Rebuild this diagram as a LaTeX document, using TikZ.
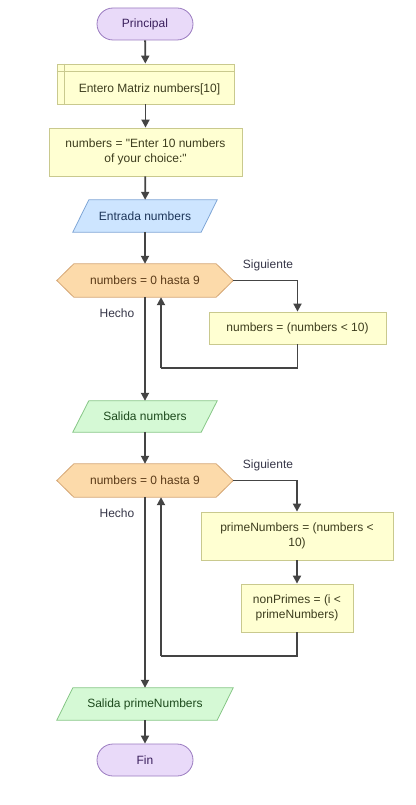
\documentclass[tikz,border=0pt]{standalone}
\usepackage{fontspec}
\newfontfamily\arialf{Liberation Sans}
\usetikzlibrary{arrows.meta,backgrounds,calc}
\definecolor{termfill}{HTML}{E9DAF9}
\definecolor{termdraw}{HTML}{9A7BC0}
\definecolor{termtext}{HTML}{3A1F5C}
\definecolor{procfill}{HTML}{FFFFD2}
\definecolor{procdraw}{HTML}{C9C98E}
\definecolor{proctext}{HTML}{3D3D1E}
\definecolor{infill}{HTML}{CDE5FF}
\definecolor{indraw}{HTML}{7FA6D6}
\definecolor{intext}{HTML}{1C3559}
\definecolor{loopfill}{HTML}{FCDAAA}
\definecolor{loopdraw}{HTML}{D4A574}
\definecolor{looptext}{HTML}{5A3A18}
\definecolor{outfill}{HTML}{D5F9D5}
\definecolor{outdraw}{HTML}{86C686}
\definecolor{outtext}{HTML}{1D4A1D}
\definecolor{linecol}{HTML}{444444}
\definecolor{labtext}{HTML}{363648}
\tikzset{
  base/.style={font=\arialf\fontsize{12}{15}\selectfont, inner sep=0pt, align=center},
  term/.style={base, rectangle, rounded corners=16pt, draw=termdraw, fill=termfill, text=termtext, line width=0.8pt, minimum width=96pt, minimum height=32pt},
  proc/.style={base, rectangle, draw=procdraw, fill=procfill, text=proctext, line width=0.8pt},
  io/.style={base, minimum height=32pt},
  loopnode/.style={base, text=looptext, minimum height=33pt},
  lab/.style={base, text=labtext},
  conn/.style={draw=linecol, line width=1.8pt, -{Triangle[length=8pt,width=8pt]}},
  plain/.style={draw=linecol, line width=1.8pt},
}
\begin{document}
\begin{tikzpicture}[x=1pt,y=-1pt]
\useasboundingbox (0,0) rectangle (415,805);
% nodes
\node[term] (start) at (145,24) {Principal};
\node[proc, minimum width=177pt, minimum height=40pt] (decl) at (145.5,84) {};
\draw[procdraw, line width=0.8pt] ($(decl.north west)+(8,0)$) -- ($(decl.south west)+(8,0)$);
\draw[procdraw, line width=0.8pt] ($(decl.north west)+(0,8)$) -- ($(decl.north east)+(0,8)$);
\node[base, text=proctext] (decltext) at (149.5,89) {Entero Matriz numbers[10]};
\node[proc, minimum width=193pt, minimum height=48pt] (assign) at (145.5,152) {numbers = "Enter 10 numbers\\of your choice:"};
\node[io, minimum width=144pt, text=intext] (inp) at (145,216) {Entrada numbers};
\node[loopnode, minimum width=176pt] (loop1) at (145,280.5) {numbers = 0 hasta 9};
\node[proc, minimum width=177pt, minimum height=32pt] (body1) at (297.5,328) {numbers = (numbers < 10)};
\node[io, minimum width=144pt, minimum height=31pt, text=outtext] (out1) at (145,416.5) {Salida numbers};
\node[loopnode, minimum width=176pt] (loop2) at (145,480.5) {numbers = 0 hasta 9};
\node[proc, minimum width=192pt, minimum height=48pt] (body2) at (297,536) {primeNumbers = (numbers <\\10)};
\node[proc, minimum width=112pt, minimum height=48pt] (body3) at (297,608) {nonPrimes = (i <\\primeNumbers)};
\node[io, minimum width=176pt, text=outtext] (out2) at (145,704) {Salida primeNumbers};
\node[term] (stop) at (145,760) {Fin};
% labels
\node[lab] (sig1) at (268,265) {Siguiente};
\node[lab] (hecho1) at (117,313) {Hecho};
\node[lab] (sig2) at (268,465) {Siguiente};
\node[lab] (hecho2) at (117,513) {Hecho};
% shapes behind
\begin{scope}[on background layer]
  % input parallelogram
  \draw[draw=indraw, fill=infill, line width=0.8pt]
    ($(inp.south west)$) -- ($(inp.north west)+(16,0)$) -- (inp.north east) -- ($(inp.south east)+(-16,0)$) -- cycle;
  % outputs
  \draw[draw=outdraw, fill=outfill, line width=0.8pt]
    ($(out1.south west)$) -- ($(out1.north west)+(16,0)$) -- (out1.north east) -- ($(out1.south east)+(-16,0)$) -- cycle;
  \draw[draw=outdraw, fill=outfill, line width=0.8pt]
    ($(out2.south west)$) -- ($(out2.north west)+(16,0)$) -- (out2.north east) -- ($(out2.south east)+(-16,0)$) -- cycle;
  % loop hexagons
  \foreach \n in {loop1,loop2}{
    \draw[draw=loopdraw, fill=loopfill, line width=0.8pt]
      (\n.west) -- ($(\n.north west)+(17,0)$) -- ($(\n.north east)+(-17,0)$) -- (\n.east)
      -- ($(\n.south east)+(-17,0)$) -- ($(\n.south west)+(17,0)$) -- cycle;
  }
\end{scope}
% connectors
\draw[conn] (start) -- (decl);
\draw[conn] (decl) -- (assign);
\draw[conn] (assign) -- (inp);
\draw[conn] (inp) -- (loop1);
\draw[conn] (loop1.east) -| (body1.north);
\coordinate (ret1) at (161,368);
\draw[plain] (body1.south) |- (ret1);
\draw[conn] (ret1) -- (ret1 |- loop1.south);
\draw[conn] (loop1.south) -- (out1.north);
\draw[conn] (out1) -- (loop2);
\draw[conn] (loop2.east) -| (body2.north);
\draw[conn] (body2) -- (body3);
\coordinate (ret2) at (161,656);
\draw[plain] (body3.south) |- (ret2);
\draw[conn] (ret2) -- (ret2 |- loop2.south);
\draw[conn] (loop2.south) -- (out2.north);
\draw[conn] (out2) -- (stop);
\end{tikzpicture}
\end{document}
